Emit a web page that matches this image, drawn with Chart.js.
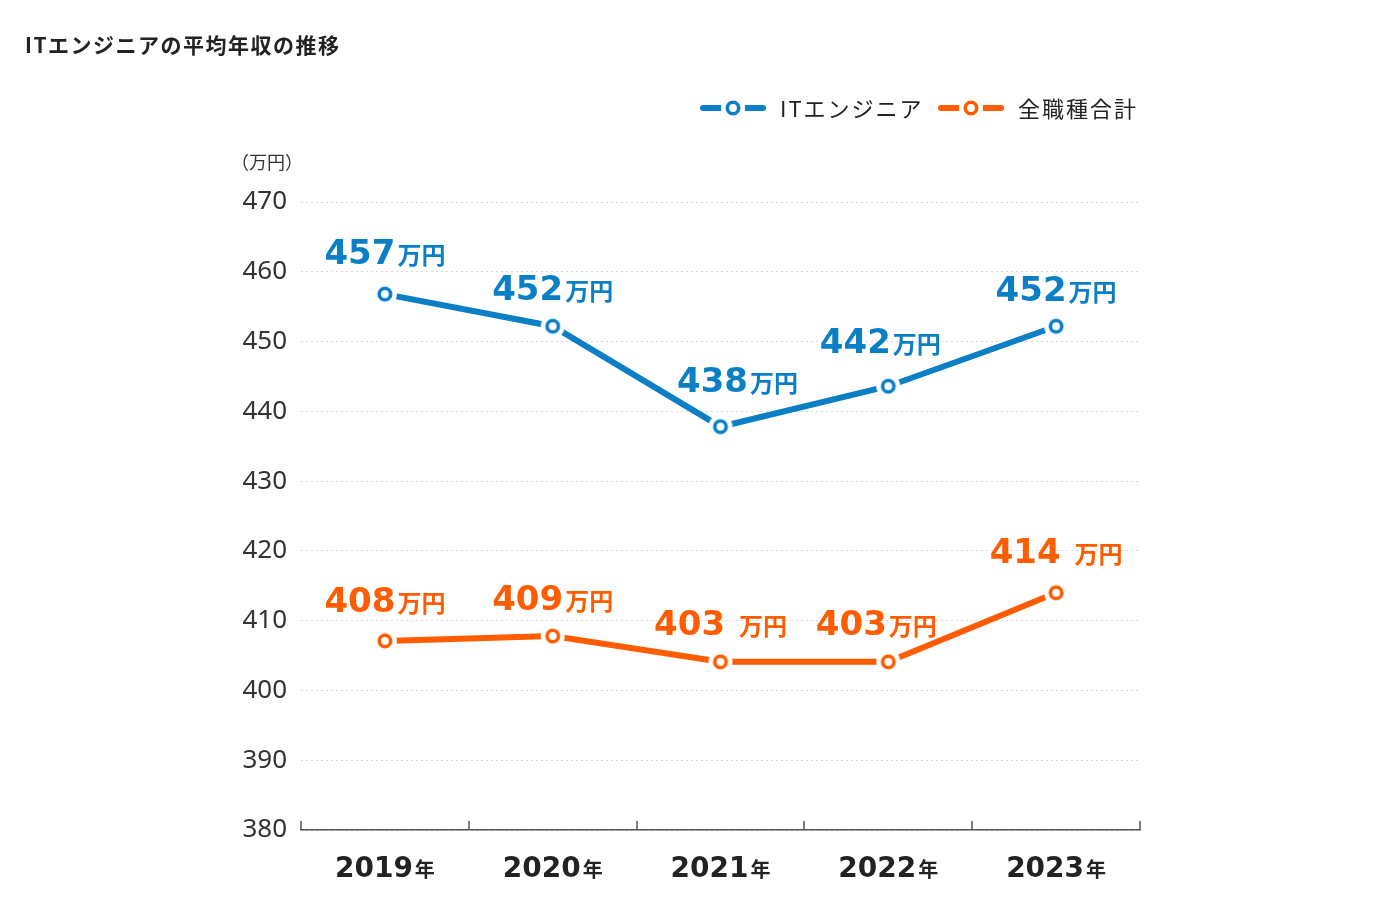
<!DOCTYPE html>
<html lang="ja">
<head>
<meta charset="utf-8">
<title>ITエンジニアの平均年収の推移</title>
<script src="https://cdn.jsdelivr.net/npm/chart.js@4/dist/chart.umd.min.js"></script>
<style>
  html, body { margin: 0; padding: 0; background: #fff; }
  #wrap { width: 1400px; height: 900px; }
</style>
</head>
<body>
<div id="wrap"><canvas id="salaryChart" width="1400" height="900"></canvas></div>
<script>
// Data (plotted values, label texts as printed)
const years = ['2019', '2020', '2021', '2022', '2023'];
const itEngineer = [456.8, 452.2, 437.8, 443.6, 452.2];
const allJobs = [407.1, 407.8, 404.1, 404.1, 414.0];
const itLabels = ['457', '452', '438', '442', '452'];
const allLabels = ['408', '409', '403 ', '403', '414 '];
const yMin = 380, yMax = 470, yStep = 10;

const BLUE = '#0b7fc6';
const ORANGE = '#ff5c00';
const JP = '"Noto Sans CJK JP", "Noto Sans", sans-serif';
const NUM = '"DejaVu Sans", sans-serif';

// small hand placement of the value labels, [dx, dy above point]
const itNudge = [[0, 30], [0, 26], [17, 35], [-8, 33], [0, 25]];
const allNudge = [[0, 29], [0, 26], [0, 27], [-12, 27], [0, 30]];

// hollow circle marker with white halo
function markerImage(color) {
  const c = document.createElement('canvas');
  c.width = 26; c.height = 26;
  const g = c.getContext('2d');
  g.fillStyle = '#fff';
  g.beginPath(); g.arc(13, 13, 12, 0, Math.PI * 2); g.fill();
  g.strokeStyle = color;
  g.lineWidth = 3.6;
  g.beginPath(); g.arc(13, 13, 5.7, 0, Math.PI * 2); g.stroke();
  return c;
}
const blueMarker = markerImage(BLUE);
const orangeMarker = markerImage(ORANGE);

function drawMixed(ctx, cx, base, big, small, bigFont, smallFont, color, gap) {
  ctx.font = bigFont;
  const wb = ctx.measureText(big).width;
  ctx.font = smallFont;
  const ws = ctx.measureText(small).width;
  let left = cx - (wb + gap + ws) / 2;
  ctx.fillStyle = color;
  ctx.textAlign = 'left';
  ctx.textBaseline = 'alphabetic';
  ctx.font = bigFont;
  ctx.fillText(big, left, base);
  ctx.font = smallFont;
  ctx.fillText(small, left + wb + gap, base);
}

function drawLegendItem(ctx, x0, cy, color, marker, text) {
  ctx.strokeStyle = color;
  ctx.lineWidth = 6;
  ctx.lineCap = 'round';
  ctx.beginPath(); ctx.moveTo(x0 + 3, cy); ctx.lineTo(x0 + 20, cy); ctx.stroke();
  ctx.beginPath(); ctx.moveTo(x0 + 46, cy); ctx.lineTo(x0 + 63, cy); ctx.stroke();
  ctx.drawImage(marker, x0 + 33 - 13, cy - 13);
  ctx.fillStyle = '#222';
  ctx.font = `22px ${JP}`;
  ctx.letterSpacing = '2px';
  ctx.textAlign = 'left';
  ctx.textBaseline = 'middle';
  ctx.fillText(text, x0 + 80, cy + 1);
  ctx.letterSpacing = '0px';
}

const decorations = {
  id: 'decorations',
  afterDraw(chart) {
    const { ctx, chartArea, scales: { x, y } } = chart;
    ctx.save();

    // title
    ctx.fillStyle = '#222';
    ctx.font = `bold 21px ${JP}`;
    ctx.letterSpacing = '1.5px';
    ctx.textAlign = 'left';
    ctx.textBaseline = 'middle';
    ctx.fillText('ITエンジニアの平均年収の推移', 25, 45);
    ctx.letterSpacing = '0px';

    // unit
    ctx.fillStyle = '#333';
    ctx.font = `18px ${JP}`;
    ctx.fillText('（万円）', 231, 162);

    // legend
    drawLegendItem(ctx, 700, 108, BLUE, blueMarker, 'ITエンジニア');
    drawLegendItem(ctx, 938, 108, ORANGE, orangeMarker, '全職種合計');

    // x axis ticks (pointing up)
    ctx.strokeStyle = '#555';
    ctx.lineWidth = 1.5;
    ctx.lineCap = 'butt';
    const step = x.getPixelForValue(1) - x.getPixelForValue(0);
    for (let i = 0; i <= years.length; i++) {
      const px = Math.round(x.getPixelForValue(0) - step / 2 + i * step);
      ctx.beginPath();
      ctx.moveTo(px, chartArea.bottom);
      ctx.lineTo(px, chartArea.bottom - 9);
      ctx.stroke();
    }

    // x labels
    years.forEach((yr, i) => {
      drawMixed(ctx, x.getPixelForValue(i), 877, yr, '年',
        `bold 28px ${NUM}`, `bold 20px ${JP}`, '#222', 2);
    });

    // value labels
    itLabels.forEach((t, i) => {
      const [dx, dy] = itNudge[i];
      drawMixed(ctx, x.getPixelForValue(i) + dx, y.getPixelForValue(itEngineer[i]) - dy, t, '万円',
        `bold 34px ${NUM}`, `bold 24px ${JP}`, BLUE, 2);
    });
    allLabels.forEach((t, i) => {
      const [dx, dy] = allNudge[i];
      drawMixed(ctx, x.getPixelForValue(i) + dx, y.getPixelForValue(allJobs[i]) - dy, t, '万円',
        `bold 34px ${NUM}`, `bold 24px ${JP}`, ORANGE, 2);
    });

    ctx.restore();
  }
};

const ctx = document.getElementById('salaryChart').getContext('2d');
new Chart(ctx, {
  type: 'line',
  data: {
    labels: years,
    datasets: [
      {
        label: 'ITエンジニア',
        data: itEngineer,
        borderColor: BLUE,
        borderWidth: 6,
        pointStyle: blueMarker,
        pointRadius: 8,
        tension: 0
      },
      {
        label: '全職種合計',
        data: allJobs,
        borderColor: ORANGE,
        borderWidth: 6,
        pointStyle: orangeMarker,
        pointRadius: 8,
        tension: 0
      }
    ]
  },
  options: {
    responsive: false,
    devicePixelRatio: 1,
    animation: false,
    events: [],
    layout: { padding: { top: 202, right: 260, bottom: 0, left: 0 } },
    plugins: {
      legend: { display: false },
      title: { display: false },
      tooltip: { enabled: false }
    },
    scales: {
      x: {
        offset: true,
        grid: { display: false },
        border: { color: '#555', width: 1.5 },
        ticks: { display: false },
        afterFit(scale) { scale.height = 70; }
      },
      y: {
        min: yMin,
        max: yMax,
        ticks: {
          stepSize: yStep,
          padding: 14,
          color: '#333',
          font: { family: 'Noto Sans', size: 26 }
        },
        grid: { color: '#d8d8d8', lineWidth: 1, drawTicks: false },
        border: { display: false, dash: [2, 3] },
        afterFit(scale) { scale.width = 301; }
      }
    }
  },
  plugins: [decorations]
});
</script>
</body>
</html>
